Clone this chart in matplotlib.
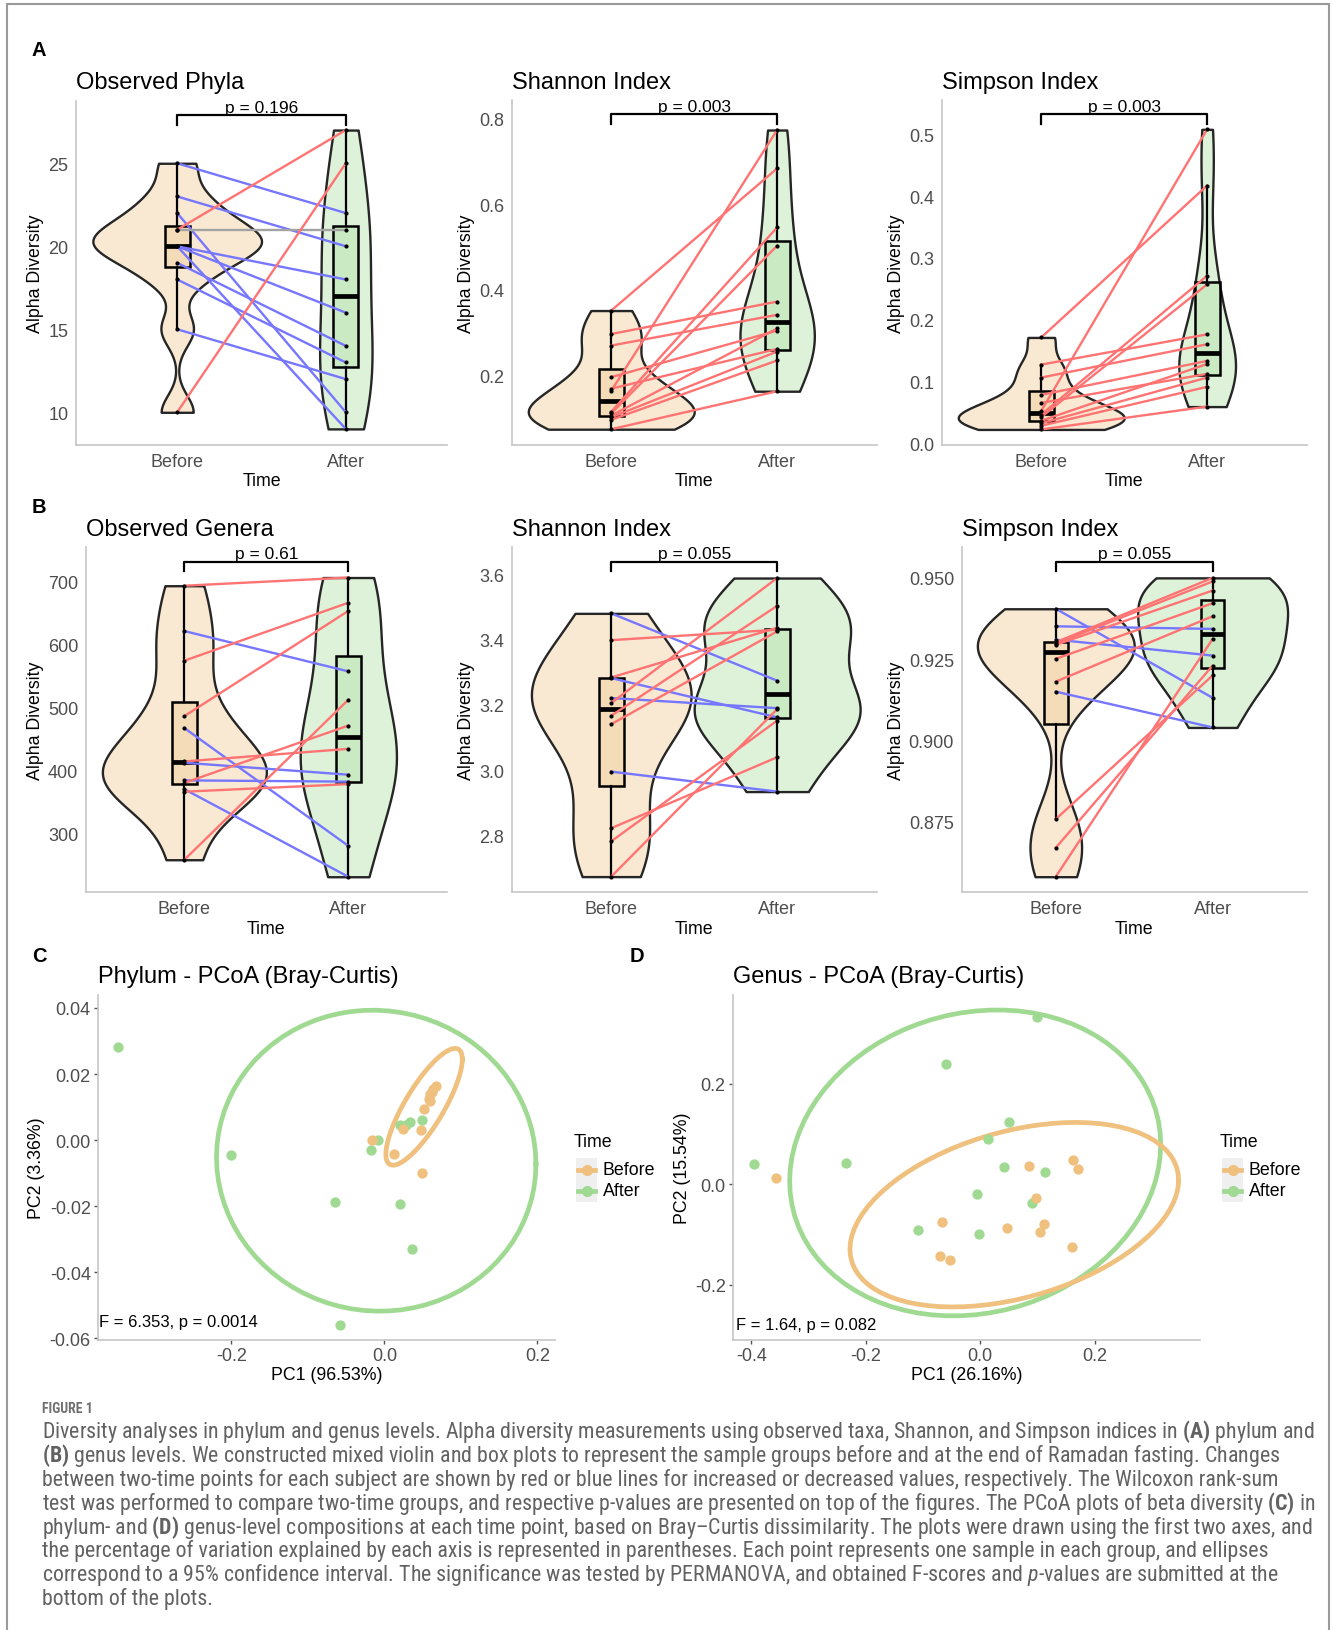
import numpy as np
import matplotlib
matplotlib.use("Agg")
import matplotlib.pyplot as plt
import matplotlib.transforms as mtransforms
from matplotlib import font_manager
from matplotlib.colors import to_rgba
from matplotlib.lines import Line2D
from matplotlib.patches import Rectangle

# ---- alpha diversity, paired samples (before[i] -> after[i]) ----
phyla_obs_before = [25, 23, 22, 21, 21, 20, 20, 20, 19, 18, 15, 10]
phyla_obs_after = [22, 20, 10, 27, 21, 18, 16, 9, 14, 13, 12, 25]

phyla_shannon_before = [0.351, 0.296, 0.269, 0.195, 0.168, 0.163, 0.114, 0.110, 0.105, 0.101, 0.095, 0.073]
phyla_shannon_after = [0.684, 0.372, 0.341, 0.304, 0.261, 0.774, 0.546, 0.503, 0.309, 0.255, 0.234, 0.162]

phyla_simpson_before = [0.171, 0.127, 0.106, 0.078, 0.065, 0.052, 0.046, 0.042, 0.036, 0.032, 0.028, 0.022]
phyla_simpson_after = [0.417, 0.176, 0.160, 0.133, 0.112, 0.508, 0.271, 0.257, 0.128, 0.106, 0.091, 0.059]

genera_obs_before = [693, 621, 574, 486, 467, 414, 412, 384, 380, 370, 366, 258]
genera_obs_after = [706, 557, 666, 653, 280, 434, 393, 382, 471, 231, 378, 512]

genera_shannon_before = [3.480, 3.398, 3.284, 3.282, 3.221, 3.206, 3.167, 3.141, 2.996, 2.823, 2.783, 2.675]
genera_shannon_after = [3.274, 3.430, 3.436, 3.162, 3.190, 3.588, 3.503, 3.425, 2.935, 3.040, 3.152, 3.187]

genera_simpson_before = [0.9405, 0.9351, 0.9310, 0.9302, 0.9298, 0.9294, 0.9251, 0.9181, 0.9150, 0.8758, 0.8670, 0.8581]
genera_simpson_after = [0.9131, 0.9343, 0.9261, 0.9500, 0.9489, 0.9461, 0.9422, 0.9382, 0.9040, 0.9200, 0.9230, 0.9312]

p_values = ["p = 0.196", "p = 0.003", "p = 0.003", "p = 0.61", "p = 0.055", "p = 0.055"]
time_labels = ["Before", "After"]

# ---- beta diversity (PCoA coordinates) ----
phylum_before_pc1 = [-0.016, 0.013, 0.024, 0.048, 0.049, 0.052, 0.058, 0.059, 0.062, 0.064, 0.067, 0.060]
phylum_before_pc2 = [0.000, -0.0041, 0.0034, 0.0031, -0.0099, 0.0095, 0.0125, 0.0138, 0.0145, 0.0155, 0.0163, 0.0118]
phylum_after_pc1 = [-0.348, -0.200, -0.064, -0.058, -0.017, -0.009, 0.021, 0.036, 0.021, 0.034, 0.049, 0.028]
phylum_after_pc2 = [0.0283, -0.0044, -0.0188, -0.0559, -0.0031, 0.000, -0.0193, -0.0329, 0.0047, 0.0056, 0.0060, 0.0045]

genus_before_pc1 = [-0.356, -0.067, -0.070, -0.052, 0.047, 0.086, 0.097, 0.111, 0.105, 0.162, 0.171, 0.161]
genus_before_pc2 = [0.013, -0.074, -0.143, -0.150, -0.087, 0.036, -0.027, -0.079, -0.095, 0.049, 0.030, -0.124]
genus_after_pc1 = [-0.396, -0.234, -0.059, 0.100, 0.050, 0.013, 0.041, 0.114, -0.006, 0.090, -0.109, -0.003]
genus_after_pc2 = [0.040, 0.042, 0.239, 0.333, 0.123, 0.090, 0.034, 0.024, -0.019, -0.038, -0.091, -0.099]

permanova_text = ["F = 6.353, p = 0.0014", "F = 1.64, p = 0.082"]

caption_lines = [
    r"Diversity analyses in phylum and genus levels. Alpha diversity measurements using observed taxa, Shannon, and Simpson indices in $\mathbf{(A)}$ phylum and",
    r"$\mathbf{(B)}$ genus levels. We constructed mixed violin and box plots to represent the sample groups before and at the end of Ramadan fasting. Changes",
    r"between two-time points for each subject are shown by red or blue lines for increased or decreased values, respectively. The Wilcoxon rank-sum",
    r"test was performed to compare two-time groups, and respective p-values are presented on top of the figures. The PCoA plots of beta diversity $\mathbf{(C)}$ in",
    r"phylum- and $\mathbf{(D)}$ genus-level compositions at each time point, based on Bray–Curtis dissimilarity. The plots were drawn using the first two axes, and",
    r"the percentage of variation explained by each axis is represented in parentheses. Each point represents one sample in each group, and ellipses",
    r"correspond to a 95% confidence interval. The significance was tested by PERMANOVA, and obtained F-scores and $\mathit{p}$-values are submitted at the",
    r"bottom of the plots.",
]

BEFORE_COL = "#EFC07E"
AFTER_COL = "#A0DA92"
UP_COL = "#FF7373"
DOWN_COL = "#7676FF"
SAME_COL = "#A3A3A3"
TICK_COL = "#4D4D4D"
AXIS_COL = "#C6C6C6"

W, H = 1333, 1631

installed = {f.name for f in font_manager.fontManager.ttflist}
cap_font = next(f for f in ["Roboto Condensed", "Liberation Sans Narrow", "Open Sans Condensed", "Liberation Sans"]
                if f in installed)

plt.rcParams["font.family"] = ["Liberation Sans", "DejaVu Sans"]
plt.rcParams["axes.unicode_minus"] = False
plt.rcParams["mathtext.fontset"] = "custom"
plt.rcParams["mathtext.rm"] = cap_font
plt.rcParams["mathtext.bf"] = cap_font + ":bold"
plt.rcParams["mathtext.it"] = cap_font + ":italic"


def fx(px):
    return px / W


def fy(py):
    return 1 - py / H


def px_rect(left, top, right, bottom):
    return [fx(left), fy(bottom), (right - left) / W, (bottom - top) / H]


def nrd0(x):
    sd = x.std(ddof=1)
    q75, q25 = np.percentile(x, [75, 25])
    lo = min(sd, (q75 - q25) / 1.34)
    if lo == 0:
        lo = sd
    return 0.9 * lo * len(x) ** -0.2


def kde(x, grid, bw):
    z = (grid[:, None] - x[None, :]) / bw
    return np.exp(-0.5 * z ** 2).sum(1) / (len(x) * bw * np.sqrt(2 * np.pi))


def cov_trob(pts, nu=5, maxit=25, tol=0.01):
    # multivariate-t robust covariance (as MASS::cov.trob, used by stat_ellipse)
    n, p = pts.shape
    loc = pts.mean(0)
    w = np.ones(n)
    for _ in range(maxit):
        w0 = w
        X = pts - loc
        _, d, vt = np.linalg.svd(np.sqrt(w / w.sum())[:, None] * X, full_matrices=False)
        wX = X @ vt.T @ np.diag(1 / d)
        Q = (wX ** 2).sum(1)
        w = (nu + p) / (nu + Q)
        loc = (w[:, None] * pts).sum(0) / w.sum()
        if np.all(np.abs(w - w0) < tol):
            break
    sX = np.sqrt(w)[:, None] * X
    return loc, sX.T @ sX / n


def ellipse_xy(x, y, level=0.95, segments=80):
    pts = np.column_stack([x, y])
    center, shape = cov_trob(pts)
    dfd = len(pts) - 1
    qf = dfd / 2 * ((1 - level) ** (-2 / dfd) - 1)
    radius = np.sqrt(2 * qf)
    t = np.linspace(0, 2 * np.pi, segments + 1)
    circle = np.column_stack([np.cos(t), np.sin(t)])
    ell = center + radius * circle @ np.linalg.cholesky(shape).T
    return ell[:, 0], ell[:, 1]


fig = plt.figure(figsize=(W / 100, H / 100), dpi=100)
fig.add_artist(Rectangle((fx(7), fy(H + 20)), fx(1329) - fx(7), fy(5) - fy(H + 20),
                         transform=fig.transFigure, fill=False, ec="#9A9A9A", lw=1.5))


def style_axes(ax):
    for side in ("top", "right"):
        ax.spines[side].set_visible(False)
    for side in ("left", "bottom"):
        ax.spines[side].set_color(AXIS_COL)
        ax.spines[side].set_linewidth(1.2)


def alpha_panel(rect, before, after, ylim, yticks, fmt, title, ptext, title_y):
    ax = fig.add_axes(px_rect(*rect))
    before = np.asarray(before, float)
    after = np.asarray(after, float)
    groups = [(1, before, BEFORE_COL), (2, after, AFTER_COL)]
    dens = []
    for pos, vals, col in groups:
        grid = np.linspace(vals.min(), vals.max(), 512)
        dens.append((grid, kde(vals, grid, nrd0(vals))))
    dmax = max(d.max() for _, d in dens)
    for (pos, vals, col), (grid, d) in zip(groups, dens):
        hw = 0.5 * d / dmax
        ax.fill_betweenx(grid, pos - hw, pos + hw, facecolor=to_rgba(col, 0.35),
                         edgecolor="#262626", linewidth=1.7, zorder=1)
        ax.boxplot([vals], positions=[pos], widths=0.15, whis=1.5, showfliers=False,
                   showcaps=False, patch_artist=True, manage_ticks=False, zorder=2,
                   boxprops=dict(facecolor=to_rgba(col, 0.3), edgecolor="black", linewidth=1.8),
                   medianprops=dict(color="black", linewidth=3.4),
                   whiskerprops=dict(color="black", linewidth=1.6))
    for b, a in zip(before, after):
        c = UP_COL if a > b else DOWN_COL if a < b else SAME_COL
        ax.plot([1, 2], [b, a], color=c, lw=1.7, zorder=3)
    for pos, vals, _ in groups:
        ax.scatter(np.full(len(vals), pos), vals, s=9, color="black", linewidths=0, zorder=4)

    trans = mtransforms.blended_transform_factory(ax.transData, ax.transAxes)
    ax.plot([1, 1, 2, 2], [0.931, 0.958, 0.958, 0.931], transform=trans,
            color="black", lw=1.6, clip_on=False)
    ax.text(1.5, 0.960, ptext, transform=trans, ha="center", va="bottom", fontsize=12.5)

    ax.set_xlim(0.4, 2.6)
    ax.set_ylim(*ylim)
    ax.set_xticks([1, 2], time_labels)
    ax.set_yticks(yticks, [fmt.format(v) for v in yticks])
    ax.tick_params(length=0, labelsize=13, labelcolor=TICK_COL, pad=5.5)
    ax.set_xlabel("Time", fontsize=12.8, labelpad=2)
    ax.set_ylabel("Alpha Diversity", fontsize=12.8, labelpad=3)
    style_axes(ax)
    fig.text(fx(rect[0]), fy(title_y), title, fontsize=17, va="baseline")
    return ax


def pcoa_panel(rect, bx, by, axx, axy, xlim, ylim, xticks, yticks, yfmt, title,
               xlabel, ylabel, stat_text, stat_pos, legend_x):
    ax = fig.add_axes(px_rect(*rect))
    for x, y, col in ((axx, axy, AFTER_COL), (bx, by, BEFORE_COL)):
        ex, ey = ellipse_xy(np.asarray(x), np.asarray(y))
        ax.plot(ex, ey, color=col, lw=3.4, zorder=2)
    ax.scatter(axx, axy, s=55, color=AFTER_COL, linewidths=0, zorder=3)
    ax.scatter(bx, by, s=55, color=BEFORE_COL, linewidths=0, zorder=3)
    ax.set_xlim(*xlim)
    ax.set_ylim(*ylim)
    ax.set_xticks(xticks, ["{:.1f}".format(v) for v in xticks])
    ax.set_yticks(yticks, [yfmt.format(v) for v in yticks])
    ax.tick_params(length=3, width=1, color="#555555", labelsize=13, labelcolor=TICK_COL, pad=2)
    ax.set_xlabel(xlabel, fontsize=12.8, labelpad=2)
    ax.set_ylabel(ylabel, fontsize=12.8, labelpad=3)
    style_axes(ax)
    ax.text(stat_pos[0], stat_pos[1], stat_text, transform=ax.transAxes, va="center", fontsize=12)
    fig.text(fx(rect[0]), fy(983), title, fontsize=17, va="baseline")

    # legend drawn by hand to match the ggplot guide layout
    fig.add_artist(Rectangle((fx(legend_x + 2), fy(1203)), 21 / W, 44 / H,
                             transform=fig.transFigure, fc="#EFEFEF", ec="none", zorder=-1))
    fig.text(fx(legend_x), fy(1143), "Time", fontsize=12.8, va="center")
    for i, (lab, col) in enumerate(zip(time_labels, (BEFORE_COL, AFTER_COL))):
        ky = fy(1171 + 21 * i)
        fig.add_artist(Line2D([fx(legend_x + 4), fx(legend_x + 21)], [ky, ky],
                              transform=fig.transFigure, color=col, lw=3.4))
        fig.add_artist(Line2D([fx(legend_x + 12.5)], [ky], transform=fig.transFigure,
                              color=col, marker="o", markersize=7, lw=0))
        fig.text(fx(legend_x + 29), ky, lab, fontsize=12.8, va="center")
    return ax


alpha_panel((76, 102, 447, 446), phyla_obs_before, phyla_obs_after, (8.03, 28.75),
            [10, 15, 20, 25], "{:.0f}", "Observed Phyla", p_values[0], 89)
alpha_panel((511.7, 100.7, 876.7, 446), phyla_shannon_before, phyla_shannon_after, (0.036, 0.845),
            [0.2, 0.4, 0.6, 0.8], "{:.1f}", "Shannon Index", p_values[1], 89)
alpha_panel((941.7, 100.7, 1306.7, 446), phyla_simpson_before, phyla_simpson_after, (-0.0032, 0.556),
            [0.0, 0.1, 0.2, 0.3, 0.4, 0.5], "{:.1f}", "Simpson Index", p_values[2], 89)
alpha_panel((86, 548.3, 446.7, 893.3), genera_obs_before, genera_obs_after, (206.3, 754),
            [300, 400, 500, 600, 700], "{:.0f}", "Observed Genera", p_values[3], 536)
alpha_panel((511.7, 548.3, 876.7, 893.3), genera_shannon_before, genera_shannon_after, (2.627, 3.682),
            [2.8, 3.0, 3.2, 3.4, 3.6], "{:.1f}", "Shannon Index", p_values[4], 536)
alpha_panel((961.7, 548.3, 1306.7, 893.3), genera_simpson_before, genera_simpson_after, (0.8533, 0.9594),
            [0.875, 0.900, 0.925, 0.950], "{:.3f}", "Simpson Index", p_values[5], 536)

pcoa_panel((97.7, 995.7, 555, 1340.7), phylum_before_pc1, phylum_before_pc2,
           phylum_after_pc1, phylum_after_pc2, (-0.3748, 0.223), (-0.0604, 0.044),
           [-0.2, 0.0, 0.2], [-0.06, -0.04, -0.02, 0.0, 0.02, 0.04], "{:.2f}",
           "Phylum - PCoA (Bray-Curtis)", "PC1 (96.53%)", "PC2 (3.36%)",
           permanova_text[0], (0.003, 0.052), 574)
pcoa_panel((732.6, 995.7, 1200, 1340.7), genus_before_pc1, genus_before_pc2,
           genus_after_pc1, genus_after_pc2, (-0.4327, 0.384), (-0.3088, 0.3767),
           [-0.4, -0.2, 0.0, 0.2], [-0.2, 0.0, 0.2], "{:.1f}",
           "Genus - PCoA (Bray-Curtis)", "PC1 (26.16%)", "PC2 (15.54%)",
           permanova_text[1], (0.007, 0.043), 1220)

for label, (x, y) in zip("ABCD", [(32, 56), (32, 513), (32, 962), (630, 962)]):
    fig.text(fx(x), fy(y), label, fontsize=14.5, fontweight="bold", va="baseline")

# caption
fig.text(fx(42), fy(1409), "FIGURE 1", fontsize=10, fontweight="bold", color="#707070",
         family=cap_font, va="center")
renderer = fig.canvas.get_renderer()
probe = fig.text(0, 0, caption_lines[0], fontsize=12, family=cap_font)
cap_size = 12 * 1271 / probe.get_window_extent(renderer).width
probe.remove()
for i, line in enumerate(caption_lines):
    fig.text(fx(42), fy(1432 + 23.9 * i), line, fontsize=cap_size, color="#626262",
             family=cap_font, va="center")

fig.savefig("out.png", dpi=100)
